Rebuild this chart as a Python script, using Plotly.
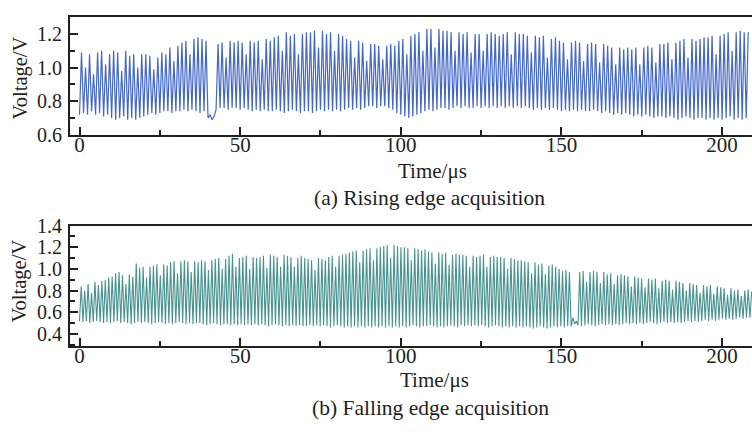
import plotly.graph_objects as go

# ---------------- data ----------------
# (a) rising-edge acquisition: per-cycle peak / trough voltages, cycle period ~1.25 us
period_a = 1.25
peaks_a = [
    1.09, 1.00, 1.08, 0.96, 1.09, 1.10, 1.02, 1.08,
    1.10, 1.09, 0.98, 1.10, 1.07, 1.08, 1.00, 1.08,
    1.08, 1.07, 0.99, 1.06, 1.09, 1.08,
    1.12, 1.04, 1.13,
    1.15, 1.16, 1.08, 1.17, 1.18, 1.17, 1.16,
    0.72, 0.71,
    1.14, 1.15, 1.06, 1.16, 1.15, 1.16,
    1.15, 1.08, 1.16, 1.15, 1.16, 1.05, 1.17, 1.16,
    1.18, 1.19, 1.10, 1.21, 1.19, 1.20, 1.08, 1.20, 1.21,
    1.21, 1.22, 1.12, 1.22,
    1.20, 1.21, 1.10, 1.20, 1.19,
    1.17, 1.16, 1.06, 1.16, 1.15, 1.04, 1.14,
    1.14, 1.13, 1.05, 1.13, 1.14, 1.13,
    1.16, 1.17, 1.08, 1.19, 1.20, 1.21, 1.10,
    1.23, 1.23, 1.12, 1.23, 1.22,
    1.22, 1.21, 1.10, 1.21, 1.20, 1.21, 1.09,
    1.20, 1.20, 1.10, 1.20, 1.21, 1.20, 1.19,
    1.20, 1.21, 1.08, 1.21, 1.20,
    1.20, 1.19, 1.09, 1.19, 1.18, 1.19, 1.06, 1.17, 1.18,
    1.16, 1.15, 1.05, 1.15, 1.16, 1.15, 1.04, 1.14,
    1.15, 1.14, 1.03, 1.14, 1.13, 1.12, 1.02, 1.12, 1.11, 1.12,
    1.11, 1.12, 1.02, 1.12, 1.13, 1.12, 1.03, 1.14,
    1.14, 1.15, 1.05, 1.15, 1.16, 1.17, 1.06, 1.17, 1.16, 1.17, 1.18,
    1.18, 1.19, 1.08, 1.19, 1.20, 1.21, 1.10, 1.21, 1.22, 1.21, 1.21,
]
troughs_a = [
    0.72, 0.73, 0.72, 0.74, 0.72, 0.73, 0.71, 0.72,
    0.70, 0.69, 0.70, 0.71, 0.69, 0.70, 0.69, 0.70,
    0.71, 0.72, 0.73, 0.72, 0.73, 0.74,
    0.74, 0.73, 0.74,
    0.74, 0.75, 0.74, 0.75, 0.74, 0.73, 0.74,
    0.70, 0.69,
    0.75, 0.76, 0.76, 0.75, 0.76, 0.76,
    0.75, 0.76, 0.75, 0.74, 0.75, 0.74, 0.75, 0.74,
    0.74, 0.75, 0.74, 0.73, 0.74, 0.75, 0.74, 0.73, 0.74,
    0.74, 0.73, 0.74, 0.75,
    0.74, 0.75, 0.74, 0.75, 0.74,
    0.75, 0.76, 0.75, 0.76, 0.75, 0.76, 0.77,
    0.77, 0.76, 0.77, 0.77, 0.76, 0.75,
    0.73, 0.72, 0.71, 0.70, 0.71, 0.72, 0.73,
    0.74, 0.75, 0.74, 0.75, 0.76,
    0.76, 0.75, 0.76, 0.77, 0.76, 0.77, 0.76,
    0.76, 0.77, 0.76, 0.77, 0.76, 0.77, 0.76,
    0.77, 0.76, 0.77, 0.76, 0.77,
    0.76, 0.77, 0.76, 0.75, 0.76, 0.75, 0.76, 0.75, 0.76,
    0.75, 0.74, 0.75, 0.74, 0.75, 0.74, 0.75, 0.74,
    0.74, 0.75, 0.74, 0.73, 0.74, 0.73, 0.72, 0.73, 0.72, 0.73,
    0.72, 0.71, 0.72, 0.71, 0.72, 0.71, 0.70, 0.71,
    0.71, 0.70, 0.71, 0.70, 0.69, 0.70, 0.71, 0.70, 0.69, 0.70, 0.70,
    0.69, 0.70, 0.69, 0.70, 0.69, 0.70, 0.71, 0.69, 0.70, 0.69, 0.70,
]

# (b) falling-edge acquisition: per-cycle peak / trough voltages, cycle period ~1.07 us
period_b = 1.07
peaks_b = [
    0.84, 0.80, 0.86, 0.78, 0.88, 0.85, 0.89, 0.90,
    0.92, 0.93, 0.96, 0.97, 0.94, 0.86, 0.95, 0.93, 1.05,
    1.01, 1.02, 0.92, 1.02, 1.03, 1.04, 0.94, 1.04, 1.03,
    1.06, 1.07, 0.96, 1.07, 1.08, 1.07, 0.97, 1.07, 1.06,
    1.08, 1.07, 0.99, 1.08, 1.09, 1.10, 1.00, 1.09,
    1.12, 1.14, 1.02, 1.10, 1.11, 1.12, 1.00, 1.11, 1.10,
    1.11, 1.12, 1.01, 1.13, 1.12, 1.11, 1.02, 1.13, 1.12, 1.11, 1.02, 1.10, 1.12, 1.10,
    1.09, 1.08, 0.99, 1.10, 1.09, 1.08,
    1.11, 1.12, 1.02, 1.12, 1.13, 1.14, 1.15,
    1.16, 1.17, 1.06, 1.17, 1.18, 1.19, 1.08, 1.19, 1.20,
    1.21, 1.22, 1.10, 1.22, 1.21, 1.20,
    1.20, 1.19, 1.08, 1.19, 1.18, 1.17, 1.18,
    1.16, 1.15, 1.05, 1.15, 1.14, 1.15, 1.04, 1.13, 1.14, 1.13,
    1.13, 1.12, 1.02, 1.12, 1.11, 1.12, 1.13, 1.02, 1.11, 1.12, 1.11,
    1.11, 1.10, 1.00, 1.10, 1.09, 1.08, 1.08,
    1.07, 1.06, 0.96, 1.06, 1.04, 1.05, 0.95, 1.03, 1.04, 1.02,
    1.00, 0.98, 0.99, 0.97,
    0.55, 0.52,
    0.97, 0.98, 0.88, 0.97, 0.98, 0.97, 0.87, 0.97, 0.95, 0.96, 0.86, 0.94, 0.95,
    0.94, 0.93, 0.84, 0.93, 0.92, 0.91, 0.83, 0.91, 0.90, 0.91, 0.82, 0.89, 0.90, 0.89, 0.81, 0.89,
    0.88, 0.87, 0.80, 0.87, 0.86, 0.85, 0.78, 0.85, 0.84, 0.85, 0.77, 0.84, 0.83, 0.82,
    0.76, 0.82, 0.80, 0.81, 0.75, 0.80, 0.81, 0.79,
]
troughs_b = [
    0.52, 0.51, 0.52, 0.50, 0.51, 0.52, 0.51, 0.50,
    0.51, 0.50, 0.51, 0.52, 0.50, 0.51, 0.50, 0.49, 0.50,
    0.51, 0.50, 0.51, 0.50, 0.49, 0.50, 0.51, 0.50, 0.49,
    0.50, 0.49, 0.50, 0.51, 0.50, 0.49, 0.50, 0.49, 0.50,
    0.50, 0.49, 0.48, 0.49, 0.50, 0.49, 0.48, 0.49,
    0.49, 0.48, 0.49, 0.48, 0.49, 0.48, 0.49, 0.48, 0.49,
    0.48, 0.49, 0.48, 0.47, 0.48, 0.49, 0.48, 0.47, 0.48, 0.47, 0.48, 0.47, 0.48, 0.47,
    0.47, 0.48, 0.47, 0.48, 0.47, 0.48,
    0.47, 0.46, 0.47, 0.48, 0.47, 0.46, 0.47,
    0.46, 0.47, 0.46, 0.47, 0.46, 0.47, 0.46, 0.47, 0.46,
    0.47, 0.46, 0.47, 0.46, 0.47, 0.46,
    0.47, 0.46, 0.47, 0.48, 0.47, 0.46, 0.47,
    0.47, 0.48, 0.47, 0.46, 0.47, 0.46, 0.47, 0.48, 0.47, 0.46,
    0.48, 0.47, 0.48, 0.47, 0.48, 0.47, 0.48, 0.47, 0.46, 0.47, 0.48,
    0.47, 0.46, 0.47, 0.46, 0.47, 0.46, 0.47,
    0.46, 0.47, 0.46, 0.45, 0.46, 0.47, 0.46, 0.45, 0.46, 0.47,
    0.46, 0.47, 0.46, 0.47,
    0.47, 0.49,
    0.48, 0.47, 0.48, 0.49, 0.48, 0.47, 0.48, 0.49, 0.48, 0.49, 0.48, 0.49, 0.48,
    0.49, 0.50, 0.49, 0.50, 0.49, 0.50, 0.49, 0.50, 0.51, 0.50, 0.49, 0.50, 0.51, 0.50, 0.51, 0.50,
    0.51, 0.50, 0.51, 0.52, 0.51, 0.52, 0.51, 0.52, 0.53, 0.52, 0.53, 0.52, 0.53, 0.54,
    0.53, 0.54, 0.53, 0.54, 0.55, 0.54, 0.55, 0.55,
]

x_ticks = [0, 50, 100, 150, 200]
x_minor = [25, 75, 125, 175]
y_ticks_a = [0.6, 0.8, 1.0, 1.2]
y_ticks_b = [0.4, 0.6, 0.8, 1.0, 1.2, 1.4]
x_title = "Time/μs"
y_title = "Voltage/V"
caption_a = "(a) Rising edge acquisition"
caption_b = "(b) Falling edge acquisition"

assert len(peaks_a) == len(troughs_a)
assert len(peaks_b) == len(troughs_b)


def waveform(troughs, peaks, period):
    xs, ys = [], []
    for i, (lo, hi) in enumerate(zip(troughs, peaks)):
        xs += [i * period, i * period + 0.5 * period]
        ys += [lo, hi]
    return xs, ys


xa, ya = waveform(troughs_a, peaks_a, period_a)
xb, yb = waveform(troughs_b, peaks_b, period_b)

FONT = "Liberation Serif, Times New Roman, serif"
INK = "#231f20"

fig = go.Figure()
fig.add_trace(go.Scatter(x=xa, y=ya, mode="lines", line=dict(color="#4468c8", width=1.2),
                         xaxis="x", yaxis="y", showlegend=False, hoverinfo="skip"))
fig.add_trace(go.Scatter(x=xb, y=yb, mode="lines", line=dict(color="#46938f", width=1.1),
                         xaxis="x2", yaxis="y2", showlegend=False, hoverinfo="skip"))

W, H = 752, 434
xdom = [70 / W, 1.0]
dom_a = [1 - 130.5 / H, 1 - 6 / H]
dom_b = [1 - 352.7 / H, 1 - 226 / H]
xrange = [-2.96, 209.3]

TICKSIZE = 20
common_x = dict(range=xrange, showline=True, linecolor=INK, linewidth=2, mirror=True,
                ticks="inside", ticklen=8, tickwidth=1.5, tickcolor=INK,
                tickvals=x_ticks, showgrid=False, zeroline=False,
                tickfont=dict(family=FONT, size=TICKSIZE + 1, color=INK), ticklabelstandoff=-10,
                minor=dict(tickvals=x_minor, ticks="inside", ticklen=5,
                           tickwidth=1.5, tickcolor=INK))
common_y = dict(showline=True, linecolor=INK, linewidth=2,
                ticks="inside", ticklen=8, tickwidth=1.5, tickcolor=INK,
                showgrid=False, zeroline=False, tickformat=".1f",
                tickfont=dict(family=FONT, size=TICKSIZE, color=INK), ticklabelstandoff=2,
                minor=dict(dtick=0.1, tick0=0.3, ticks="inside", ticklen=5,
                           tickwidth=1.5, tickcolor=INK))

fig.update_layout(
    width=W, height=H, margin=dict(l=0, r=0, t=0, b=0),
    paper_bgcolor="white", plot_bgcolor="white",
    xaxis=dict(domain=xdom, anchor="y", **common_x),
    yaxis=dict(domain=dom_a, anchor="x", range=[0.6, 1.303], tickvals=y_ticks_a,
               **common_y),
    xaxis2=dict(domain=xdom, anchor="y2", **common_x),
    yaxis2=dict(domain=dom_b, anchor="x2", range=[0.29, 1.4], tickvals=y_ticks_b,
                **common_y),
)

ann = []


def txt(x, y, s, size, angle=0):
    ann.append(dict(x=x / W, y=1 - y / H, xref="paper", yref="paper", text=s,
                    showarrow=False, textangle=angle, xanchor="center", yanchor="middle",
                    font=dict(family=FONT, size=size, color=INK)))


txt(20, 71, y_title, 20.5, -90)
txt(20, 285, y_title, 20.5, -90)
txt(432, 169, x_title, 21)
txt(434, 389, x_title, 21)
txt(429, 197, caption_a, 21.5)
txt(431, 418, caption_b, 21.5)
fig.update_layout(annotations=ann)

fig.write_html("out.html")
